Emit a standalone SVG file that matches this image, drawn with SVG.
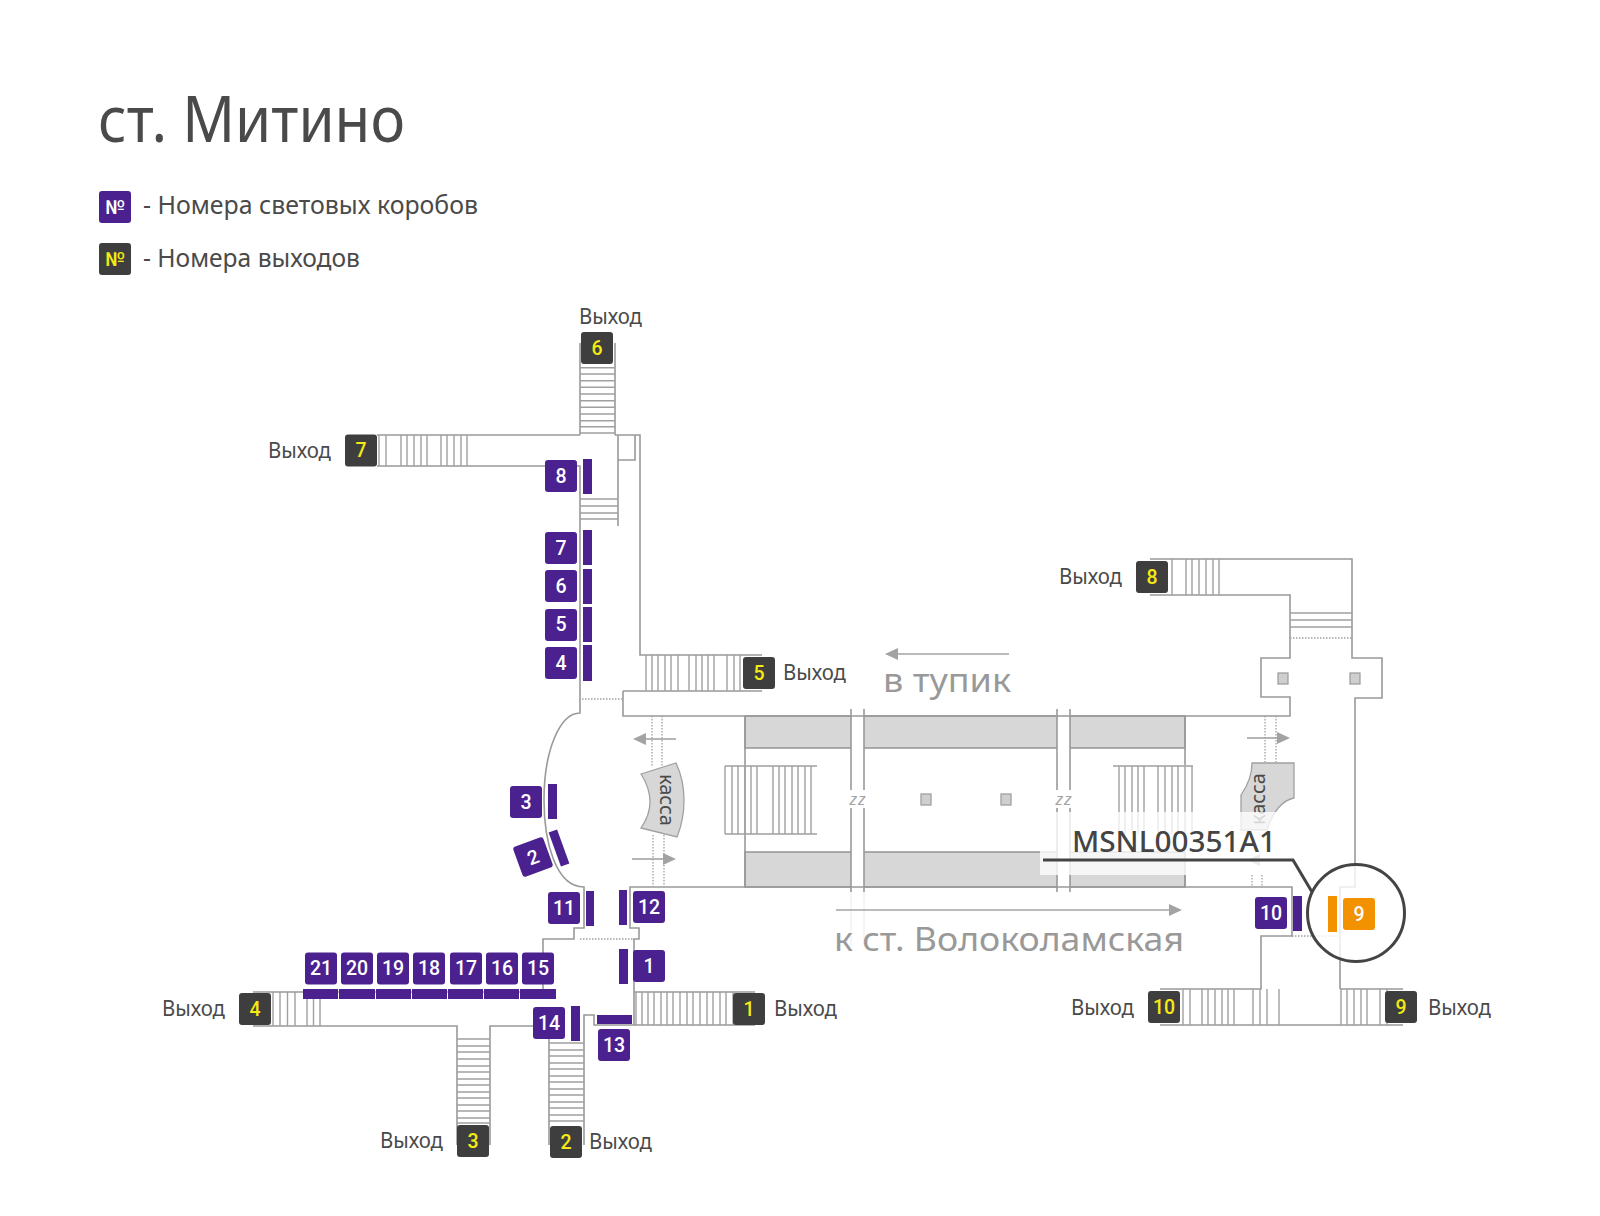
<svg xmlns="http://www.w3.org/2000/svg" width="1600" height="1216" viewBox="0 0 1600 1216">
<style>
text{font-family:"Noto Sans","Liberation Sans",sans-serif}
.w{fill:none;stroke:#999;stroke-width:1.6}
.s{fill:none;stroke:#a0a0a0;stroke-width:1.4}
.d{fill:none;stroke:#a0a0a0;stroke-width:1.3;stroke-dasharray:1.5 1.5}
.band{fill:#d7d7d7;stroke:#999;stroke-width:1.6}
.sq{fill:#cfcfcf;stroke:#a0a0a0;stroke-width:1.3}
.p{fill:#4b2190}
.k{fill:#3e3e3e}
.o{fill:#f39200}
.n{font-family:"Roboto","Noto Sans",sans-serif;font-size:19.500px;font-weight:500;text-anchor:middle;fill:#fff}
.y{fill:#f5ea14}
.l{font-size:21px;fill:#4a4a4a}
.g{font-size:32px;fill:#999}
.a{fill:none;stroke:#a3a3a3;stroke-width:1.6}
.h{fill:#a3a3a3}
.z{font-size:17px;font-style:italic;fill:#a3a3a3;text-anchor:middle;letter-spacing:1px}
.lead{fill:none;stroke:#444;stroke-width:3}
</style>

<g id="title">
<text x="98" y="142" font-size="63" fill="#4a4a4a" textLength="307" lengthAdjust="spacingAndGlyphs">ст. Митино</text>
</g>
<g id="legend">
<rect x="99" y="191" width="32" height="32" rx="3" class="p"/>
<text x="115" y="214" class="n">№</text>
<text x="143" y="214" font-size="25" fill="#4a4a4a" textLength="335" lengthAdjust="spacingAndGlyphs">- Номера световых коробов</text>
<rect x="99" y="243" width="32" height="32" rx="3" class="k"/>
<text x="115" y="266" class="n y">№</text>
<text x="143" y="267" font-size="25" fill="#4a4a4a" textLength="217" lengthAdjust="spacingAndGlyphs">- Номера выходов</text>
</g>

<g id="plan">
<rect x="745" y="716" width="440" height="32" class="band"/>
<rect x="745" y="852" width="440" height="35" class="band"/>
<rect x="851" y="709" width="13" height="183" fill="#fff"/>
<rect x="1057" y="709" width="13" height="183" fill="#fff"/>
<path class="w" d="M851 709V790M851 808V892M864 709V790M864 808V892M1057 709V790M1057 808V892M1070 709V790M1070 808V892"/>
<path d="M851 892V945M864 892V945" stroke="#eaeaea" stroke-width="1" fill="none"/>
<text x="858" y="805" class="z">zz</text>
<text x="1064" y="805" class="z">zz</text>
<rect x="921" y="794" width="10" height="11" class="sq"/>
<rect x="1001" y="794" width="10" height="11" class="sq"/>
<rect x="1278" y="673" width="10" height="11" class="sq"/>
<rect x="1350" y="673" width="10" height="11" class="sq"/>

<path class="w" d="M377 435H580M580 343V435M615 343V435M615 435H640V655H762M618 435V526M618 460H635V435"/>
<path class="w" d="M377 466H580V713C560 713 544 750 544 800C544 840 555 887 584 887V928H574V939H543V990"/>
<path class="w" d="M253 992H543M253 1026H457V1145M490 1145V1026H549V1145M584 1145V1015H594V1025H755M634 992H755"/>
<path class="w" d="M634 1025V939H639V928H630V887H1292V936H1261V989H1160M1160 1025H1403M1340 989H1403"/>
<path class="w" d="M623 691H762M623 691V716H1290V697H1261V658H1290V595H1150M1150 559H1352V658H1382V698H1355V887H1340V989"/>
<path class="w" d="M745 716V887M1185 716V765M1185 875V887"/>
<path class="d" d="M582 699H622M580 939H634M652 716V767M662 716V767M653 835V887M664 835V887M1265 716V762M1276 716V762M1290 638H1352M1252 875V887M1262 875V887M1292 936H1340"/>

<path class="s" d="M580 367.700H615M580 374H615M580 380.700H615M580 387.300H615M580 394H615M580 400.700H615M580 407.300H615M580 414H615M580 420.700H615M580 426.700H615M580 433H615"/>
<path class="s" d="M379 435V466M386 435V466M401 435V466M407 435V466M414 435V466M421 435V466M427 435V466M441 435V466M447 435V466M454 435V466M461 435V466M467 435V466"/>
<path class="s" d="M580 499H618M580 506H618M580 513H618M580 519H618"/>
<path class="s" d="M646 655V691M652 655V691M658 655V691M665 655V691M671 655V691M678 655V691M689 655V691M696 655V691M702 655V691M708 655V691M714 655V691M727 655V691M734 655V691M740 655V691"/>
<path class="s" d="M725 766V834M732 766V834M738 766V834M745 766V834M751 766V834M757 766V834M773 766V834M779 766V834M785 766V834M792 766V834M798 766V834M805 766V834M811 766V834M725 766H817M725 834H817"/>
<path class="s" d="M1119 766V834M1125 766V834M1132 766V834M1138 766V834M1144 766V834M1158 766V834M1165 766V834M1172 766V834M1178 766V834M1185 766V834M1192 766V834M1113 766H1193"/>
<path class="s" d="M1172 559V595M1186 559V595M1192 559V595M1199 559V595M1206 559V595M1213 559V595M1219 559V595"/>
<path class="s" d="M1290 613H1352M1290 620H1352M1290 627H1352"/>
<path class="s" d="M273 992V1026M280 992V1026M287.500 992V1026M295 992V1026M307 992V1026M313.500 992V1026M320 992V1026"/>
<path class="s" d="M457 1039H490M457 1046H490M457 1052H490M457 1059H490M457 1066H490M457 1072H490M457 1079H490M457 1085H490M457 1092H490M457 1098H490M457 1105H490M457 1111H490M457 1118H490M457 1123H490"/>
<path class="s" d="M549 1043H584M549 1050H584M549 1056H584M549 1063H584M549 1069H584M549 1076H584M549 1082H584M549 1089H584M549 1095H584M549 1102H584M549 1108H584M549 1115H584M549 1121H584"/>
<path class="s" d="M636 992V1025M642 992V1025M648 992V1025M654 992V1025M661 992V1025M667 992V1025M673 992V1025M680 992V1025M687 992V1025M693 992V1025M700 992V1025M707 992V1025M713 992V1025M720 992V1025M726 992V1025M733 992V1025"/>
<path class="s" d="M1183 989V1025M1190 989V1025M1202 989V1025M1208 989V1025M1215 989V1025M1222 989V1025M1228 989V1025M1234 989V1025M1253 989V1025M1260 989V1025M1267 989V1025M1279 989V1025"/>
<path class="s" d="M1341 989V1025M1347 989V1025M1354 989V1025M1361 989V1025M1367 989V1025M1380 989V1025M1387 989V1025"/>

<path d="M641 774L676 763Q684 780 684 800Q684 820 677 837L641 828Q650 815 650 802Q650 788 641 774Z" fill="#d7d7d7" stroke="#a0a0a0" stroke-width="1.300"/>
<text x="660" y="800" font-size="20" fill="#4a4a4a" text-anchor="middle" transform="rotate(90 660 800)">касса</text>
<path d="M1252 763H1294V798C1283 800 1272 812 1267 830H1241V795C1248 785 1252 775 1252 763Z" fill="#d7d7d7" stroke="#a0a0a0" stroke-width="1.300"/>
<text x="1265" y="799" font-size="20" fill="#4a4a4a" text-anchor="middle" transform="rotate(-90 1265 799)">касса</text>

<path class="a" d="M646 739H676"/><path class="h" d="M633 739L646 733V745Z"/>
<path class="a" d="M632 859H663"/><path class="h" d="M676 859L663 853V865Z"/>
<path class="a" d="M1247 738H1277"/><path class="h" d="M1290 738L1277 732V744Z"/>
<path class="a" d="M1260 860H1240"/><path class="h" d="M1247 860L1260 854V866Z"/>
<path class="a" d="M898 654H1009"/><path class="h" d="M885 654L898 648V660Z"/>
<path class="a" d="M836 910H1169"/><path class="h" d="M1182 910L1169 904V916Z"/>
<text x="883" y="692" class="g" textLength="128" lengthAdjust="spacingAndGlyphs">в тупик</text>
<text x="834" y="951" class="g" textLength="350" lengthAdjust="spacingAndGlyphs">к ст. Волоколамская</text>

<rect x="1040" y="812" width="250" height="63" fill="#fff" fill-opacity=".78"/>
</g>

<g id="strips" class="p">
<rect x="583" y="459" width="9" height="35"/>
<rect x="583" y="530" width="9" height="35"/>
<rect x="583" y="569" width="9" height="35"/>
<rect x="583" y="607" width="9" height="35"/>
<rect x="583" y="645" width="9" height="36"/>
<rect x="548" y="784" width="9" height="35"/>
<rect x="554.500" y="830" width="9" height="36" transform="rotate(-20 559 848)"/>
<rect x="586" y="891" width="8" height="35"/>
<rect x="619" y="890" width="8" height="35"/>
<rect x="619" y="949" width="9" height="35"/>
<rect x="571" y="1006" width="9" height="35"/>
<rect x="597" y="1015" width="35" height="9"/>
<rect x="1293" y="896" width="9" height="35"/>
<rect x="303" y="989" width="35" height="10"/>
<rect x="339" y="989" width="36" height="10"/>
<rect x="376" y="989" width="35" height="10"/>
<rect x="412" y="989" width="35" height="10"/>
<rect x="448" y="989" width="35" height="10"/>
<rect x="484" y="989" width="35" height="10"/>
<rect x="520" y="989" width="36" height="10"/>
</g>

<g id="box-1"><rect x="633" y="950" width="32" height="32" rx="3" class="p"/><text x="649" y="973" class="n">1</text></g>
<g id="box-2" transform="rotate(-20 533 857)"><rect x="517" y="841" width="32" height="32" rx="3" class="p"/><text x="533" y="864" class="n">2</text></g>
<g id="box-3"><rect x="510" y="786" width="32" height="32" rx="3" class="p"/><text x="526" y="809" class="n">3</text></g>
<g id="box-4"><rect x="545" y="647" width="32" height="32" rx="3" class="p"/><text x="561" y="670" class="n">4</text></g>
<g id="box-5"><rect x="545" y="609" width="32" height="32" rx="3" class="p"/><text x="561" y="631" class="n">5</text></g>
<g id="box-6"><rect x="545" y="570" width="32" height="32" rx="3" class="p"/><text x="561" y="593" class="n">6</text></g>
<g id="box-7"><rect x="545" y="532" width="32" height="32" rx="3" class="p"/><text x="561" y="555" class="n">7</text></g>
<g id="box-8"><rect x="545" y="460" width="32" height="32" rx="3" class="p"/><text x="561" y="483" class="n">8</text></g>
<g id="box-10"><rect x="1255" y="897" width="32" height="32" rx="3" class="p"/><text x="1271" y="920" class="n">10</text></g>
<g id="box-11"><rect x="548" y="892" width="32" height="32" rx="3" class="p"/><text x="564" y="915" class="n">11</text></g>
<g id="box-12"><rect x="633" y="891" width="32" height="32" rx="3" class="p"/><text x="649" y="914" class="n">12</text></g>
<g id="box-13"><rect x="598" y="1029" width="32" height="32" rx="3" class="p"/><text x="614" y="1052" class="n">13</text></g>
<g id="box-14"><rect x="533" y="1007" width="32" height="32" rx="3" class="p"/><text x="549" y="1030" class="n">14</text></g>
<g id="box-15"><rect x="522" y="952.500" width="32" height="32" rx="3" class="p"/><text x="538" y="975" class="n">15</text></g>
<g id="box-16"><rect x="486" y="952.500" width="32" height="32" rx="3" class="p"/><text x="502" y="975" class="n">16</text></g>
<g id="box-17"><rect x="450" y="952.500" width="32" height="32" rx="3" class="p"/><text x="466" y="975" class="n">17</text></g>
<g id="box-18"><rect x="413" y="952.500" width="32" height="32" rx="3" class="p"/><text x="429" y="975" class="n">18</text></g>
<g id="box-19"><rect x="377" y="952.500" width="32" height="32" rx="3" class="p"/><text x="393" y="975" class="n">19</text></g>
<g id="box-20"><rect x="341" y="952.500" width="32" height="32" rx="3" class="p"/><text x="357" y="975" class="n">20</text></g>
<g id="box-21"><rect x="305" y="952.500" width="32" height="32" rx="3" class="p"/><text x="321" y="975" class="n">21</text></g>

<g id="exit-1"><rect x="733" y="993" width="32" height="32" rx="3" class="k"/><text x="749" y="1016" class="n y">1</text><text x="774" y="1016" class="l" textLength="63" lengthAdjust="spacingAndGlyphs">Выход</text></g>
<g id="exit-2"><rect x="550" y="1126" width="32" height="32" rx="3" class="k"/><text x="566" y="1149" class="n y">2</text><text x="589" y="1149" class="l" textLength="63" lengthAdjust="spacingAndGlyphs">Выход</text></g>
<g id="exit-3"><rect x="457" y="1125" width="32" height="32" rx="3" class="k"/><text x="473" y="1148" class="n y">3</text><text x="380" y="1148" class="l" textLength="63" lengthAdjust="spacingAndGlyphs">Выход</text></g>
<g id="exit-4"><rect x="239" y="993" width="32" height="32" rx="3" class="k"/><text x="255" y="1016" class="n y">4</text><text x="162" y="1016" class="l" textLength="63" lengthAdjust="spacingAndGlyphs">Выход</text></g>
<g id="exit-5"><rect x="743" y="657" width="32" height="32" rx="3" class="k"/><text x="759" y="680" class="n y">5</text><text x="783" y="680" class="l" textLength="63" lengthAdjust="spacingAndGlyphs">Выход</text></g>
<g id="exit-6"><rect x="581" y="332" width="32" height="32" rx="3" class="k"/><text x="597" y="355" class="n y">6</text><text x="579" y="324" class="l" textLength="63" lengthAdjust="spacingAndGlyphs">Выход</text></g>
<g id="exit-7"><rect x="345" y="434.500" width="32" height="32" rx="3" class="k"/><text x="361" y="457" class="n y">7</text><text x="268" y="458" class="l" textLength="63" lengthAdjust="spacingAndGlyphs">Выход</text></g>
<g id="exit-8"><rect x="1136" y="561" width="32" height="32" rx="3" class="k"/><text x="1152" y="584" class="n y">8</text><text x="1059" y="584" class="l" textLength="63" lengthAdjust="spacingAndGlyphs">Выход</text></g>
<g id="exit-9"><rect x="1385" y="991" width="32" height="32" rx="3" class="k"/><text x="1401" y="1014" class="n y">9</text><text x="1428" y="1015" class="l" textLength="63" lengthAdjust="spacingAndGlyphs">Выход</text></g>
<g id="exit-10"><rect x="1148" y="991" width="32" height="32" rx="3" class="k"/><text x="1164" y="1014" class="n y">10</text><text x="1071" y="1015" class="l" textLength="63" lengthAdjust="spacingAndGlyphs">Выход</text></g>

<g id="highlight">
<circle cx="1356" cy="913" r="48.500" fill="#fff" fill-opacity=".8" stroke="#444" stroke-width="3"/>
<rect x="1328" y="896" width="9" height="36" class="o"/>
<g id="box-9"><rect x="1343" y="898" width="32" height="32" rx="3" class="o"/><text x="1359" y="921" class="n">9</text></g>
</g>
<g id="connectors">
<path class="lead" d="M1043 860H1293L1312 892"/>
</g>
<g id="callout-label">
<text x="1072" y="852" font-size="28" font-weight="500" fill="#444" textLength="204" lengthAdjust="spacingAndGlyphs">MSNL00351A1</text>
</g>
</svg>
